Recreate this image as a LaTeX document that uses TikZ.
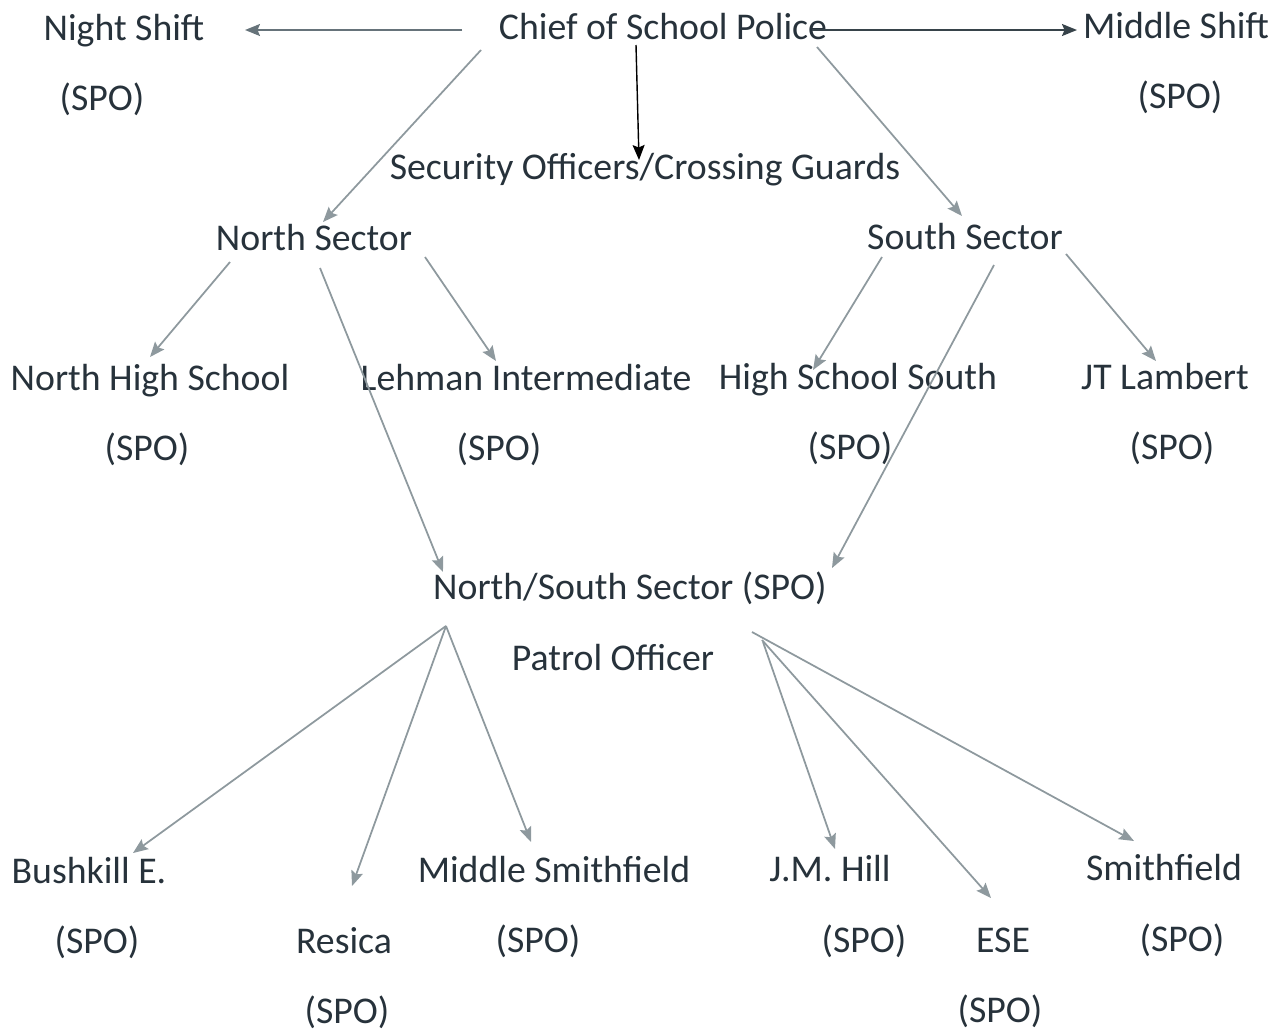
\documentclass[tikz,border=0pt]{standalone}
\usepackage{fontspec}
\setmainfont{Carlito}
\usetikzlibrary{arrows.meta}
\definecolor{txt}{HTML}{27323B}
\definecolor{arrgray}{HTML}{8E999E}
\definecolor{arrmid}{HTML}{66737A}
\definecolor{arrdark}{HTML}{37434A}
\tikzset{
  lbl/.style={inner sep=0pt, anchor=base, text=txt, font=\fontsize{21.5}{25}\selectfont},
  arr/.style={draw=arrgray, line width=1pt, -{Stealth[length=0.3cm,width=0.24cm,inset=0.05cm]}, fill=arrgray},
}
\begin{document}
\begin{tikzpicture}[x=0.02cm,y=-0.02cm]
\useasboundingbox (0,0) rectangle (1284,1032);
% top row
\node[lbl] (night) at (124,40) {Night Shift};
\node[lbl] (nightspo) at (102,110) {(SPO)};
\node[lbl] (chief) at (663,39) {Chief of School Police};
\node[lbl] (middle) at (1176,38) {Middle Shift};
\node[lbl] (middlespo) at (1180,108) {(SPO)};
\node[lbl] (security) at (645,179) {Security Officers/Crossing Guards};
% sectors
\node[lbl] (north) at (314,250) {North Sector};
\node[lbl] (south) at (965,249) {South Sector};
% schools
\node[lbl] (nhs) at (150,390) {North High School};
\node[lbl] (nhsspo) at (147,460) {(SPO)};
\node[lbl] (lehman) at (526,390) {Lehman Intermediate};
\node[lbl] (lehmanspo) at (499,460) {(SPO)};
\node[lbl] (hss) at (858,389) {High School South};
\node[lbl] (hssspo) at (850,459) {(SPO)};
\node[lbl] (jt) at (1165,389) {JT Lambert};
\node[lbl] (jtspo) at (1172,459) {(SPO)};
% north/south
\node[lbl] (ns) at (630,599) {North/South Sector (SPO)};
\node[lbl] (patrol) at (613,670) {Patrol Officer};
% bottom row
\node[lbl] (bush) at (89,883) {Bushkill E.};
\node[lbl] (bushspo) at (97,953) {(SPO)};
\node[lbl] (resica) at (344,953) {Resica};
\node[lbl] (resicaspo) at (347,1023) {(SPO)};
\node[lbl] (msf) at (554,882) {Middle Smithfield};
\node[lbl] (msfspo) at (538,952) {(SPO)};
\node[lbl] (jmh) at (830,881) {J.M. Hill};
\node[lbl] (jmhspo) at (864,952) {(SPO)};
\node[lbl] (ese) at (1003,952) {ESE};
\node[lbl] (esespo) at (1000,1022) {(SPO)};
\node[lbl] (smf) at (1164,880) {Smithfield};
\node[lbl] (smfspo) at (1182,951) {(SPO)};

% connector end points
\coordinate (chief-w) at (462,30);
\coordinate (night-e) at (245,30);
\coordinate (chief-e) at (812,30);
\coordinate (middle-w) at (1077,30);
\coordinate (chief-s) at (636,45);
\coordinate (security-n) at (639,160);
\coordinate (chief-sw) at (481,50);
\coordinate (north-n) at (323,222);
\coordinate (chief-se) at (817,47);
\coordinate (south-n) at (962,216);
\coordinate (north-sw) at (230,262);
\coordinate (nhs-n) at (150,357);
\coordinate (north-se) at (425,257);
\coordinate (lehman-n) at (496,361);
\coordinate (north-s) at (320,268);
\coordinate (ns-nw) at (443,572);
\coordinate (south-sw) at (882,257);
\coordinate (hss-n) at (813,370);
\coordinate (south-s) at (994,265);
\coordinate (ns-ne) at (832,568);
\coordinate (south-se) at (1066,254);
\coordinate (jt-n) at (1156,361);
\coordinate (ns-sw) at (446,626);
\coordinate (bush-n) at (133,853);
\coordinate (resica-n) at (352,886);
\coordinate (msf-n) at (531,842);
\coordinate (ns-se1) at (763,642);
\coordinate (ns-se2) at (762,640);
\coordinate (ns-se3) at (752,632);
\coordinate (jmh-n) at (835,849);
\coordinate (ese-n) at (991,898);
\coordinate (smf-n) at (1134,841);

\draw[arr, draw=arrmid, fill=arrmid] (chief-w) -- (night-e);
\draw[arr, draw=arrdark, fill=arrdark] (chief-e) -- (middle-w);
\draw[arr, draw=black, fill=black, line width=0.8pt] (chief-s) -- (security-n);
\draw[arr] (chief-sw) -- (north-n);
\draw[arr] (chief-se) -- (south-n);
\draw[arr] (north-sw) -- (nhs-n);
\draw[arr] (north-se) -- (lehman-n);
\draw[arr] (north-s) -- (ns-nw);
\draw[arr] (south-sw) -- (hss-n);
\draw[arr] (south-s) -- (ns-ne);
\draw[arr] (south-se) -- (jt-n);
\draw[arr] (ns-sw) -- (bush-n);
\draw[arr] (ns-sw) -- (resica-n);
\draw[arr] (ns-sw) -- (msf-n);
\draw[arr] (ns-se1) -- (jmh-n);
\draw[arr] (ns-se2) -- (ese-n);
\draw[arr] (ns-se3) -- (smf-n);
\end{tikzpicture}
\end{document}
